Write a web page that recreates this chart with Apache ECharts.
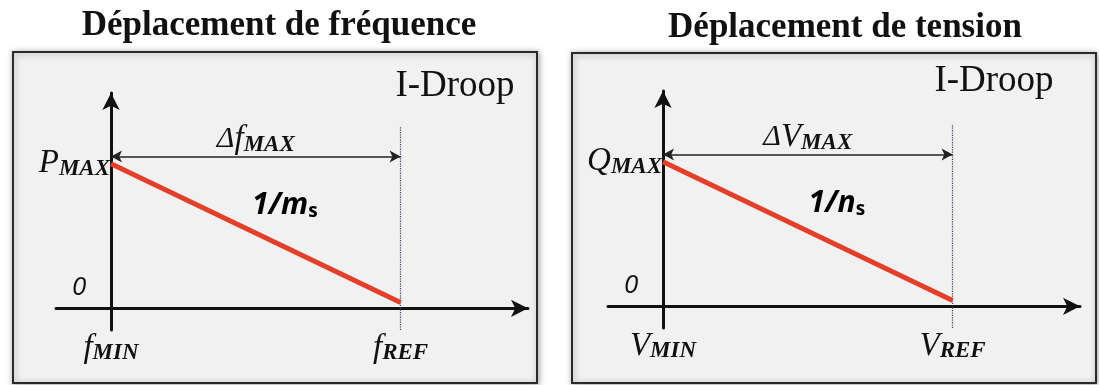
<!DOCTYPE html>
<html>
<head>
<meta charset="utf-8">
<script src="https://cdn.jsdelivr.net/npm/echarts@6/dist/echarts.min.js"></script>
<style>
html, body { margin: 0; padding: 0; background: #fff; }
#main { width: 1099px; height: 385px; }
</style>
</head>
<body>
<div id="main"></div>
<script>
// normalised droop characteristic: x 0 = MIN, 1 = REF ; y 1 = MAX, 0 = zero
var droopX = [0, 1];
var droopY = [1, 0.04];
var xTicks = [0, 1];
var titles = ['Déplacement de fréquence', 'Déplacement de tension'];
var modeLabel = 'I-Droop';
var xSymbol = ['f', 'V'];
var xTickSubs = ['MIN', 'REF'];
var ySymbol = ['P', 'Q'];
var ySub = 'MAX';
var slopeSymbol = ['m', 'n'];
var zeroLabel = '0';
var spanLevel = 1.05;      // level of the delta arrow
var refLineTop = 1.26;     // top of dotted line at REF
var refLineBottom = -0.15;
var zeroPos = [-0.11, 0.14];
var slopePos = [0.6, 0.71];

var serif = 'Liberation Serif';
var ink = '#111';

var richSym = {
    m: { fontFamily: serif, fontStyle: 'italic', fontSize: 33, color: ink, lineHeight: 30 },
    s: { fontFamily: serif, fontStyle: 'italic', fontWeight: 'bold', fontSize: 23, color: ink, lineHeight: 30, padding: [10, 0, 0, 0] }
};

var grids = [
    { left: 56, right: 571, top: 93, bottom: 55, containLabel: false, outerBoundsMode: 'none' },
    { left: 608, right: 19, top: 91, bottom: 57, containLabel: false, outerBoundsMode: 'none' }
];

var option = {
    backgroundColor: '#ffffff',
    animation: false,
    graphic: [],
    grid: grids,
    xAxis: [],
    yAxis: [],
    series: []
};

var boxes = [
    { x: 13, y: 52, w: 524, h: 331 },
    { x: 572, y: 53, w: 524, h: 330 }
];
var titleX = [279, 845];
var titleY = [26, 28];
var modeX = [455, 994];
var modeY = [86, 81];

for (var i = 0; i < 2; i++) {
    option.graphic.push({
        type: 'rect',
        z: -10,
        shape: { x: boxes[i].x, y: boxes[i].y, width: boxes[i].w, height: boxes[i].h },
        style: {
            fill: '#f1f1f1', stroke: '#2a2a2a', lineWidth: 2,
            shadowBlur: 6, shadowColor: 'rgba(0,0,0,0.35)', shadowOffsetX: 1, shadowOffsetY: 1
        }
    });
    option.graphic.push({
        type: 'text',
        x: titleX[i], y: titleY[i],
        style: {
            text: titles[i], align: 'center', verticalAlign: 'middle',
            font: 'bold 35px "Liberation Serif"', fill: ink
        }
    });
    option.graphic.push({
        type: 'text',
        x: modeX[i], y: modeY[i],
        style: {
            text: modeLabel, align: 'center', verticalAlign: 'middle',
            font: '37px "Liberation Serif"', fill: ink
        }
    });

    (function (i) {
        option.xAxis.push({
            type: 'value', gridIndex: i, min: -0.19, max: 1.44,
            splitLine: { show: false },
            axisTick: { show: false },
            axisLine: { onZero: true, lineStyle: { color: ink, width: 3 }, symbol: ['none', 'arrow'], symbolSize: [13, 17] },
            axisLabel: {
                customValues: xTicks, margin: 3,
                formatter: function (v) {
                    return '{m|' + xSymbol[i] + '}{s|' + xTickSubs[xTicks.indexOf(v)] + '}';
                },
                rich: richSym
            }
        });
        option.yAxis.push({
            type: 'value', gridIndex: i, min: -0.15, max: 1.49,
            splitLine: { show: false },
            axisTick: { show: false },
            axisLabel: { show: false },
            axisLine: { onZero: true, lineStyle: { color: ink, width: 3 }, symbol: ['none', 'arrow'], symbolSize: [13, 17] }
        });
    })(i);

    var pts = droopX.map(function (x, k) { return [x, droopY[k]]; });
    option.series.push({
        type: 'line', xAxisIndex: i, yAxisIndex: i,
        data: pts, symbol: 'none',
        lineStyle: { color: '#e3402b', width: 5 },
        z: 5,
        markLine: {
            silent: true, animation: false,
            data: [
                [
                    { coord: [droopX[1], refLineBottom], symbol: 'none' },
                    { coord: [droopX[1], refLineTop], symbol: 'none' }
                ],
                [
                    { coord: [droopX[0], spanLevel], symbol: 'arrow', symbolSize: [9, 11],
                      label: {
                          show: true, position: 'middle', distance: 2,
                          formatter: '{d|Δ}{m|' + xSymbol[i] + '}{s|' + ySub + '}',
                          rich: {
                              d: { fontFamily: serif, fontStyle: 'italic', fontSize: 30, color: ink, lineHeight: 30 },
                              m: richSym.m, s: richSym.s
                          }
                      },
                      lineStyle: { type: 'solid', color: '#222', width: 1.5 } },
                    { coord: [droopX[1], spanLevel], symbol: 'arrow', symbolSize: [9, 11] }
                ]
            ],
            lineStyle: { type: 'dotted', color: '#3a3f55', width: 1.2 },
            label: { show: false }
        }
    });
    option.series.push({
        type: 'scatter', xAxisIndex: i, yAxisIndex: i,
        symbolSize: 0, silent: true,
        itemStyle: { opacity: 1 },
        data: [
            { value: zeroPos, label: { formatter: zeroLabel, position: 'inside',
                fontFamily: 'Open Sans', fontStyle: 'italic', fontSize: 26, color: ink } },
            { value: slopePos, label: { formatter: '{a|1/' + slopeSymbol[i] + '}{b|s}', position: 'inside',
                rich: {
                    a: { fontFamily: 'Open Sans', fontWeight: 'bold', fontStyle: 'italic', fontSize: 30, color: '#000', lineHeight: 34 },
                    b: { fontFamily: 'Open Sans', fontWeight: 'bold', fontSize: 19, color: '#000', lineHeight: 34, padding: [12, 0, 0, 0] }
                } } },
            { value: [droopX[0], droopY[0]], label: { position: 'left', distance: 1,
                formatter: '{m|' + ySymbol[i] + '}{s|' + ySub + '}', rich: richSym } }
        ],
        label: { show: true, opacity: 1 }
    });
}

var chart = echarts.init(document.getElementById('main'));
chart.setOption(option);
</script>
</body>
</html>
